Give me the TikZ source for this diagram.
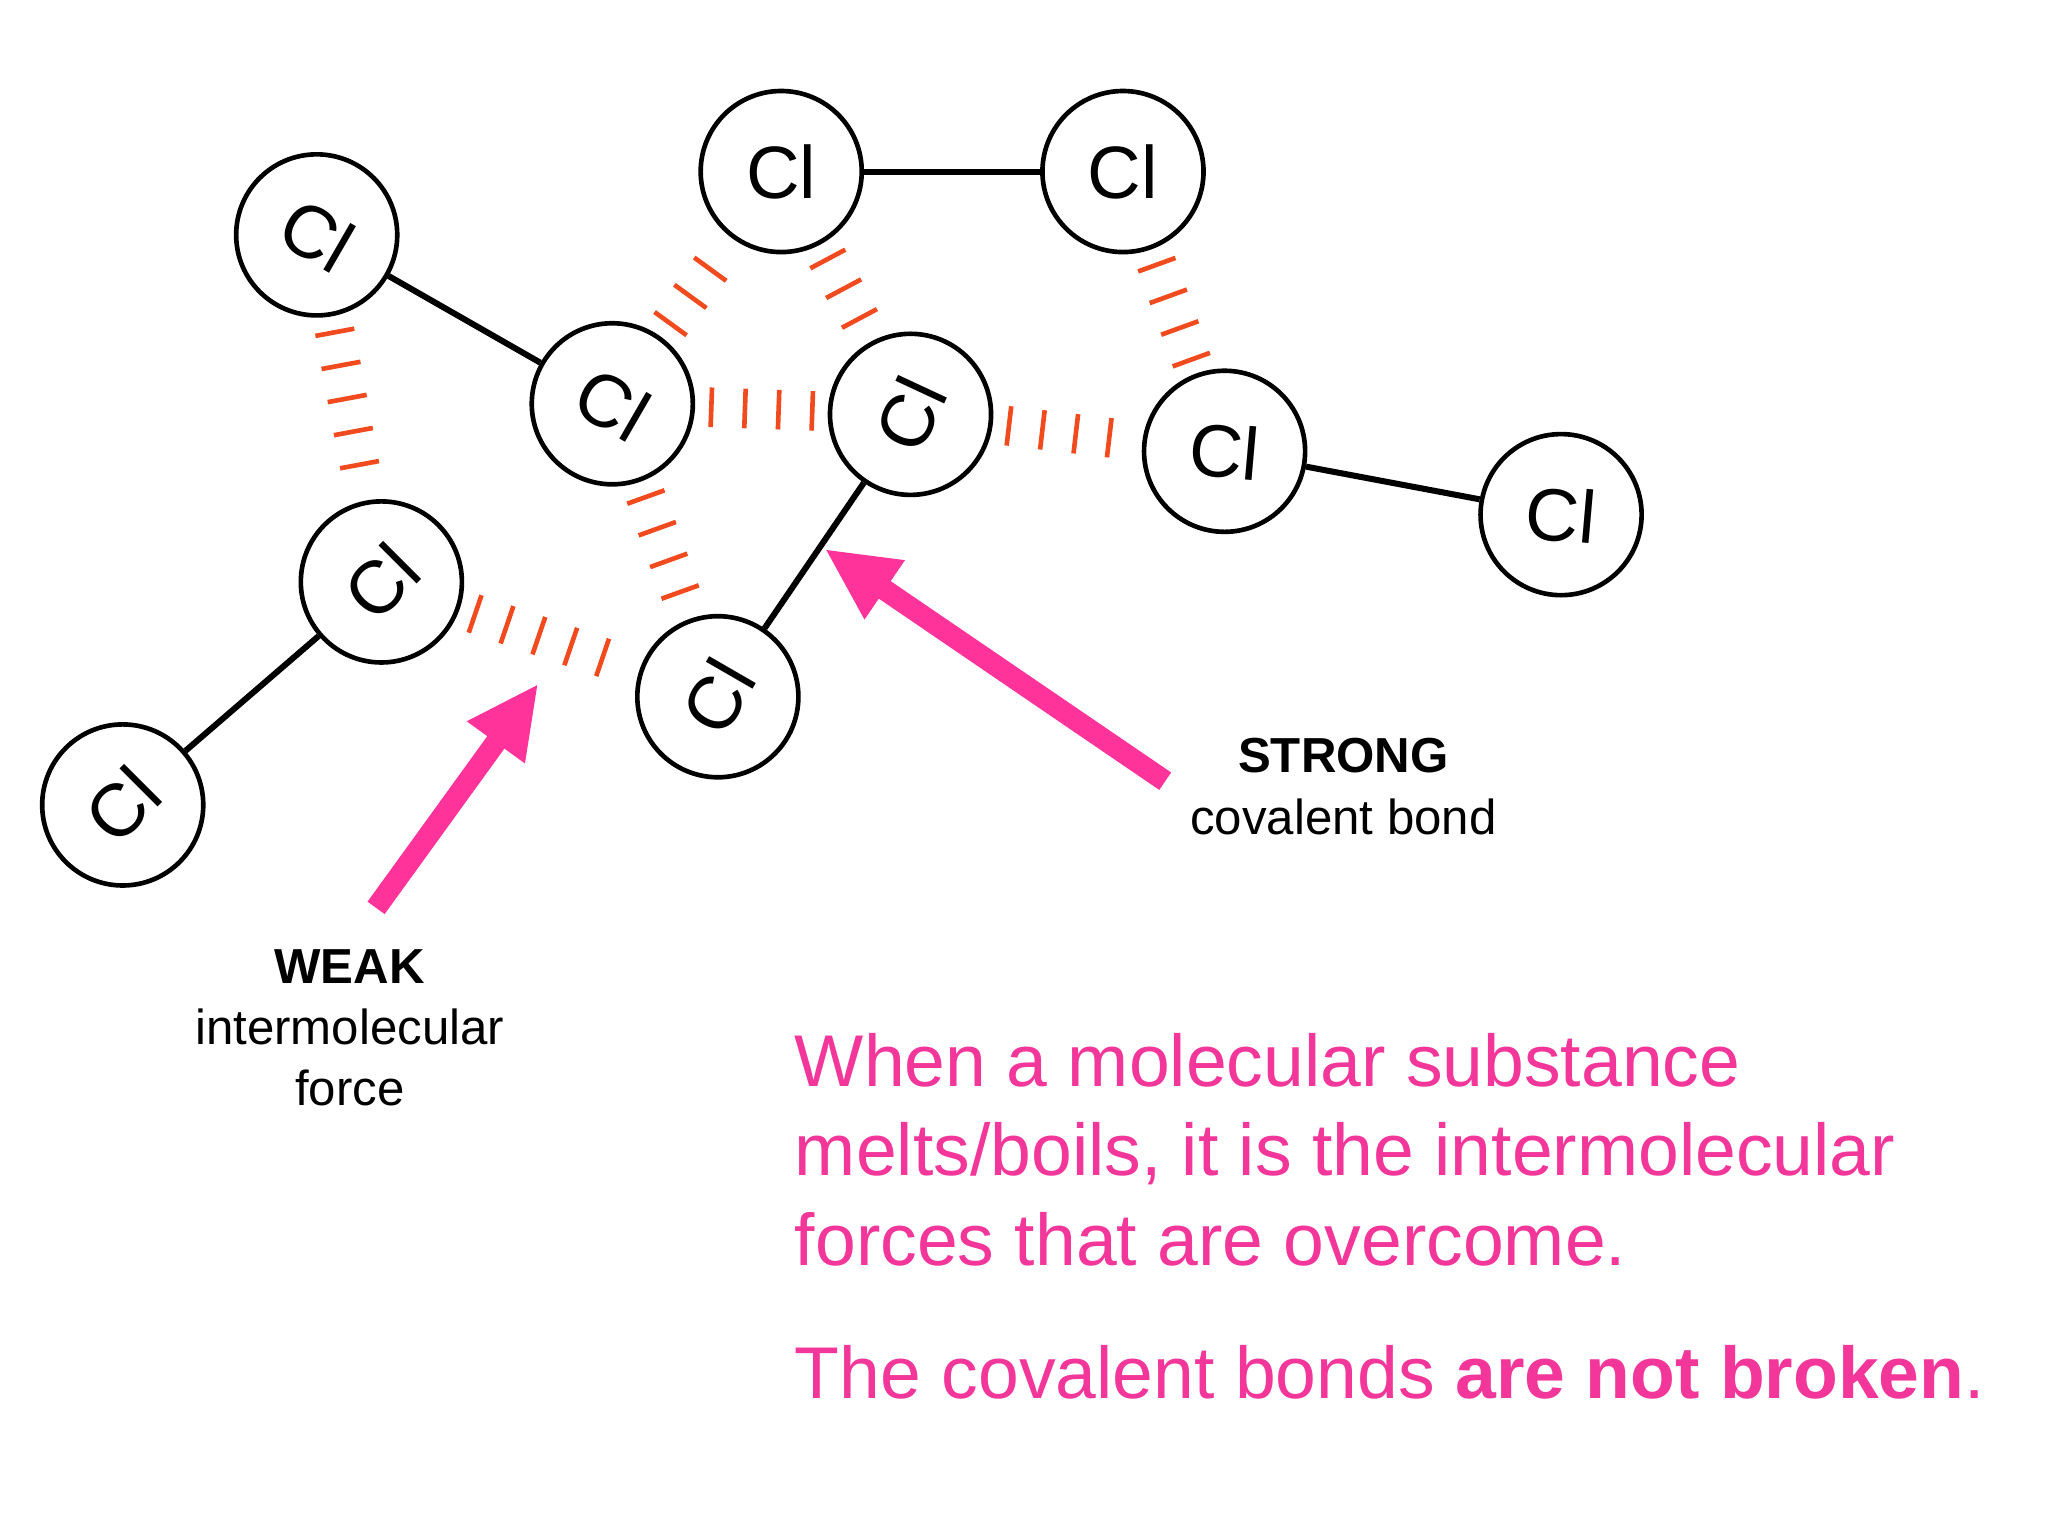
\documentclass[tikz,border=0pt]{standalone}
\usepackage{fontspec}
\setmainfont{Liberation Sans}
\usetikzlibrary{arrows.meta}
\definecolor{hashred}{HTML}{F04A1E}
\definecolor{pinkc}{HTML}{F2369A}
\definecolor{arrpink}{HTML}{FF3399}
\begin{document}
\begin{tikzpicture}[x=0.01cm,y=-0.01cm,
  atom/.style={circle,draw,line width=1pt,minimum size=1.22cm,inner sep=0pt,font=\fontsize{16}{18}\selectfont},
  cov/.style={line width=1.3pt},
  weak/.style={hashred,line width=0.3cm,dash pattern=on 0.035cm off 0.22cm,shorten >=2pt,shorten <=3pt},
  bigarrow/.style={arrpink,line width=0.16cm,-{Triangle[width=0.5cm,length=0.55cm]}},
  lab/.style={font=\fontsize{10.6}{13.2}\selectfont,align=center},
  pinktext/.style={pinkc,font=\fontsize{15.8}{19}\selectfont,anchor=base west}]
\useasboundingbox (0,0) rectangle (1552,1164);
\node[atom] (a1) at (240,178) {\rotatebox{-30}{Cl}};
\node[atom] (a2) at (464,306) {\rotatebox{-30}{Cl}};
\node[atom] (a3) at (592,130) {Cl};
\node[atom] (a4) at (851,130) {Cl};
\node[atom] (a5) at (690,314) {\rotatebox{65}{Cl}};
\node[atom] (a6) at (928,342) {\rotatebox{-5}{Cl}};
\node[atom] (a7) at (1183,390) {\rotatebox{-5}{Cl}};
\node[atom] (a8) at (289,441) {\rotatebox{45}{Cl}};
\node[atom] (a9) at (544,528) {\rotatebox{60}{Cl}};
\node[atom] (a10) at (93,610) {\rotatebox{45}{Cl}};
\draw[cov] (a1) -- (a2);
\draw[cov] (a3) -- (a4);
\draw[cov] (a6) -- (a7);
\draw[cov] (a8) -- (a10);
\draw[cov] (a5) -- (a9);
\foreach \p/\q in {a1/a8,a2/a3,a3/a5,a4/a6,a2/a5,a5/a6,a8/a9,a2/a9}
  \draw[weak] (\p) -- (\q);
\coordinate (w0) at (285,688); \coordinate (w1) at (408,518);
\coordinate (s0) at (883,592); \coordinate (s1) at (625,416);
\draw[bigarrow] (w0) -- (w1);
\draw[bigarrow] (s0) -- (s1);
\node[lab] (strong) at (1018,596) {\textbf{STRONG}\\covalent bond};
\node[lab] (weaklab) at (265,779) {\textbf{WEAK}\\intermolecular\\force};
\node[pinktext] (t1) at (590,823) {When a molecular substance};
\node[pinktext] (t2) at (590,891) {melts/boils, it is the intermolecular};
\node[pinktext] (t3) at (590,959) {forces that are overcome.};
\node[pinktext] (t4) at (590,1060) {The covalent bonds \textbf{are not broken}.};
\end{tikzpicture}
\end{document}
